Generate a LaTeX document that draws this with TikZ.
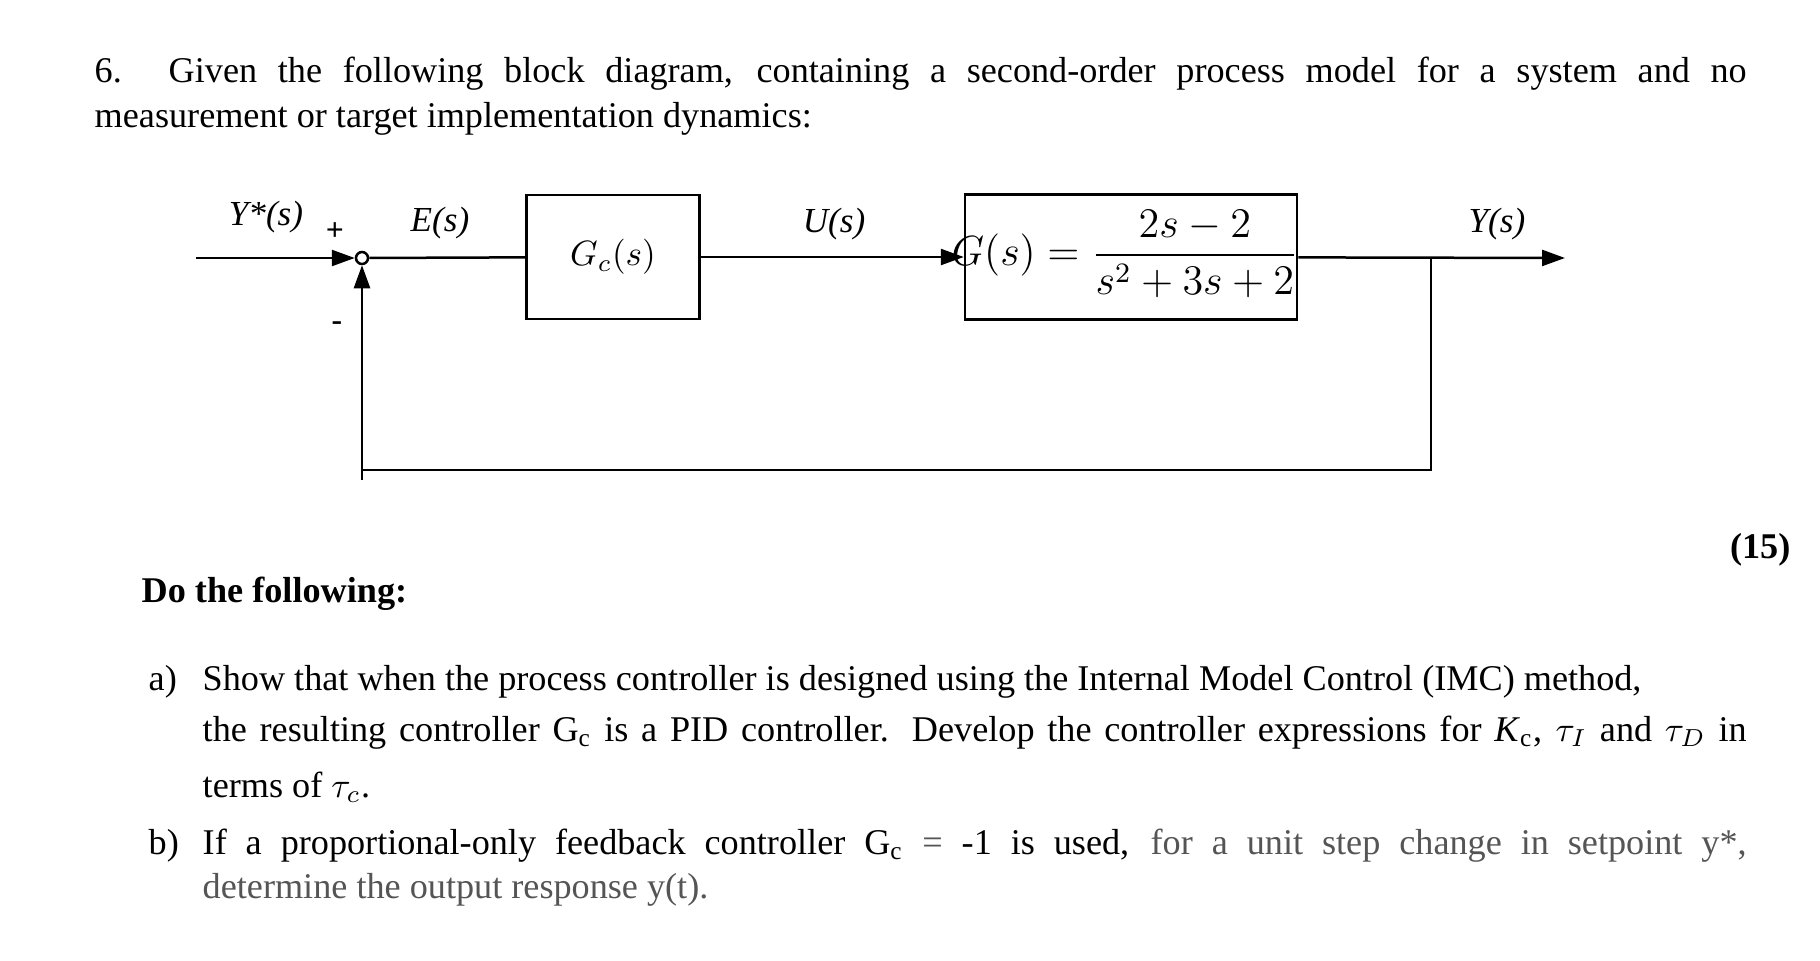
\documentclass[tikz,border=0pt]{standalone}
\usepackage{amsmath}
\usepackage{fontspec}
\setmainfont{Liberation Serif}
\usetikzlibrary{positioning,arrows.meta}
\definecolor{txtgray}{HTML}{555555}
\tikzset{blk/.style={draw,line width=0.25mm,inner sep=0pt},
  sig/.style={line width=0.25mm},
  arr/.style={sig,-{Triangle[length=2.3mm,width=1.6mm]}},
  lbl/.style={inner sep=0pt,font=\fontsize{10}{12}\selectfont\itshape},
  txt/.style={inner sep=0pt,anchor=base west,font=\fontsize{10.3}{12}\selectfont}}
\begin{document}
\begin{tikzpicture}[x=0.1mm,y=-0.1mm]
\useasboundingbox (0,0) rectangle (1820,960);
% question text
\node[txt] (q1) at (94,82) {\makebox[165.2mm][s]{6. Given the following block diagram, containing a second-order process model for a system and no}};
\node[txt] (q2) at (94,127) {measurement or target implementation dynamics:};
% blocks
\node[blk,minimum width=17.3mm,minimum height=12.4mm] (gc) at (613,257) {};
\node[lbl,font=\fontsize{10}{12}\selectfont] at (gc) {$G_c(s)$};
\node[blk,minimum width=33.2mm,minimum height=12.5mm] (gp) at (1131,257) {};
\node[inner sep=0pt,font=\fontsize{12}{14}\selectfont] (gpt) at (1125,254) {$G(s)=\displaystyle\frac{2s-2}{s^2+3s+2}$};
\node[draw,circle,line width=0.25mm,minimum size=1.2mm,inner sep=0pt] (sum) at (362,258) {};
\coordinate (in) at (196,258);
\coordinate (br) at (1431,258);
\coordinate (out) at (1565,258);
\coordinate (fb1) at (1431,470);
\coordinate (fb2) at (362,470);
% connectors
\draw[arr] (in) -- (sum);
\draw[sig] (sum) -- (gc);
\draw[arr] (gc) -- (gp);
\draw[arr] (gp) -- (out);
\draw[sig] (br) -- (fb1) -- (fb2);
\draw[sig] (362,480) -- (fb2);
\draw[arr] (fb2) -- (sum);
% signal labels
\node[lbl] (ys) at (266,217) {Y*(s)};
\node[inner sep=0pt,font=\bfseries\small] at (335,232) {+};
\node[inner sep=0pt,font=\bfseries\small] at (337,326) {-};
\node[lbl] (es) at (440,223) {E(s)};
\node[lbl] (us) at (834,224) {U(s)};
\node[lbl] (yo) at (1497,224) {Y(s)};
% tasks
\node[txt,anchor=base east,font=\fontsize{10.3}{12}\selectfont\bfseries] at (1791,558) {(15)};
\node[txt,font=\fontsize{10.3}{12}\selectfont\bfseries] at (141,602) {Do the following:};
\node[txt] at (148,690) {a)};
\node[txt] at (202,690) {Show that when the process controller is designed using the Internal Model Control (IMC) method,};
\node[txt] at (202,741) {\makebox[154.4mm][s]{the resulting controller G\textsubscript{c} is a PID controller. Develop the controller expressions for \textit{K}\textsubscript{c}, $\tau_I$ and $\tau_D$ in}};
\node[txt] at (202,797) {terms of $\tau_c$.};
\node[txt] at (148,854) {b)};
\node[txt] at (202,854) {\makebox[154.4mm][s]{If a proportional-only feedback controller G\textsubscript{c} \textcolor{txtgray}{=} -1 is used, \textcolor{txtgray}{for a unit step change in setpoint y*,}}};
\node[txt,text=txtgray] at (202,898) {determine the output response y(t).};
\end{tikzpicture}
\end{document}
